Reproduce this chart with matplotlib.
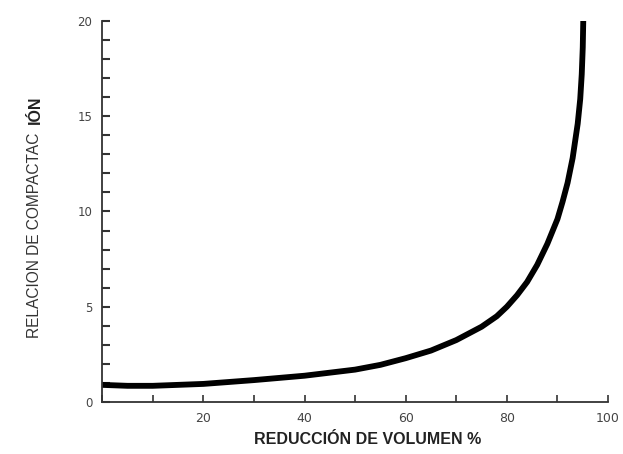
import matplotlib
matplotlib.use('Agg')
from matplotlib import pyplot as plt

# Values
reduccion = [0, 5, 10, 20, 30, 40, 50, 55, 60, 65, 70, 75, 78, 80, 82, 84, 86, 88,
             90, 91, 92, 93, 94, 94.5, 94.8, 95, 95.1]
relacion = [0.9, 0.85, 0.85, 0.95, 1.15, 1.38, 1.7, 1.95, 2.3, 2.7, 3.25, 3.95, 4.5, 5.0, 5.6, 6.3, 7.2, 8.3,
            9.6, 10.5, 11.5, 12.8, 14.6, 15.9, 17.2, 18.6, 20]

x_ticks = [0, 10, 20, 30, 40, 50, 60, 70, 80, 90, 100]
x_tick_labels = ['', '', '20', '', '40', '', '60', '', '80', '', '100']
y_ticks = list(range(0, 21))
y_tick_labels = [str(v) if v % 5 == 0 else '' for v in y_ticks]

fig = plt.figure(figsize=(6.23, 4.54), dpi=100)
ax = fig.add_axes([0.164, 0.1145, 0.812, 0.8395])

ax.plot(reduccion, relacion, color='black', lw=4.2, solid_capstyle='butt', solid_joinstyle='round')

ax.set_xlim(0, 100)
ax.set_ylim(0, 20)
ax.set_xticks(x_ticks)
ax.set_xticklabels(x_tick_labels)
ax.set_yticks(y_ticks)
ax.set_yticklabels(y_tick_labels)

for side in ['top', 'right']:
    ax.spines[side].set_visible(False)
for side in ['left', 'bottom']:
    ax.spines[side].set_color('#333333')
    ax.spines[side].set_linewidth(1.3)

ax.tick_params(axis='x', direction='in', length=5, width=1.2, color='#333333',
               labelsize=9, labelcolor='#444444', pad=7)
ax.tick_params(axis='y', direction='in', length=6, width=1.5, color='#333333',
               labelsize=8.5, labelcolor='#444444', pad=7)

# Axis titles
fig.text(368 / 623, 1 - 440 / 454, 'REDUCCIÓN DE VOLUMEN %', ha='center', va='center',
         fontsize=11.5, fontweight='bold', color='#222222', family=['Liberation Sans', 'DejaVu Sans'])
fig.text(35 / 623, 1 - 338 / 454, 'RELACION DE COMPACTAC', rotation=90, ha='center', va='bottom',
         fontsize=11.2, color='#333333', family=['Liberation Sans', 'DejaVu Sans'])
fig.text(35 / 623, 1 - 95 / 454, 'IÓN', rotation=90, ha='center', va='top',
         fontsize=11.5, fontweight='bold', color='#222222', family=['Liberation Sans', 'DejaVu Sans'])

plt.savefig('out.png', dpi=100)
